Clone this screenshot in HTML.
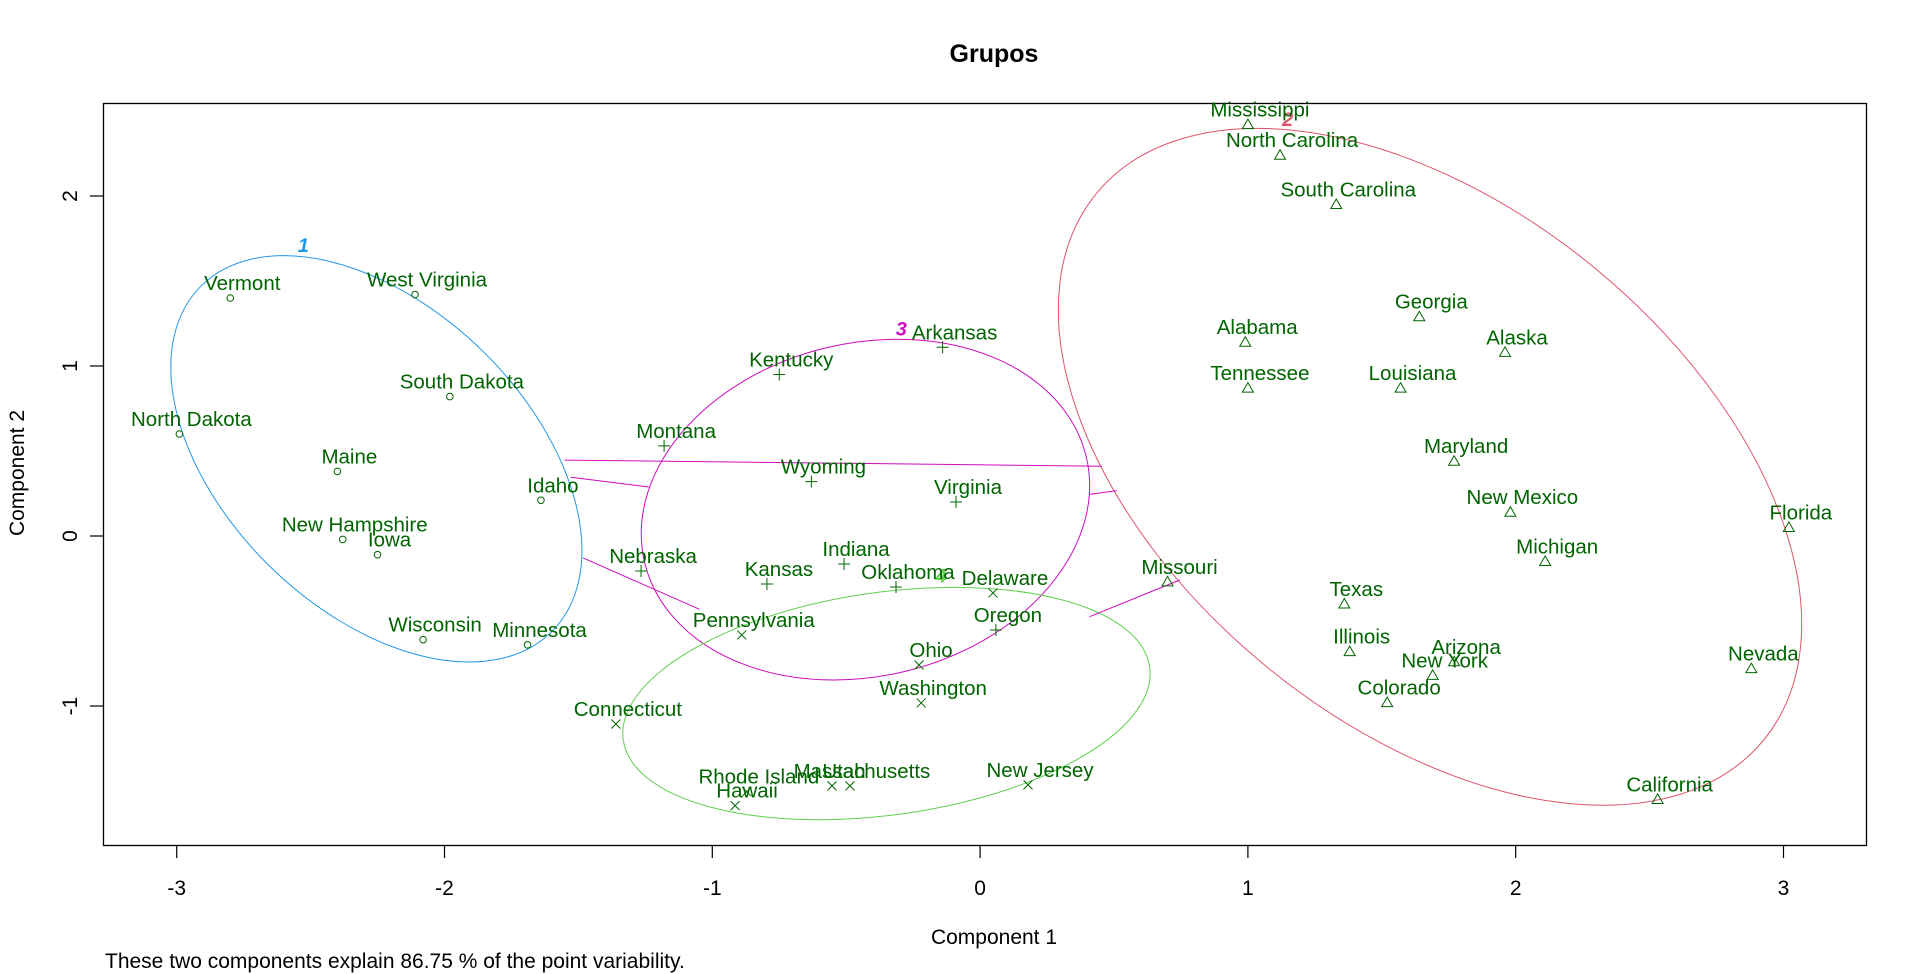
<!DOCTYPE html>
<html><head><meta charset="utf-8"><style>
html,body{margin:0;padding:0;background:#fff;}
svg{display:block;font-family:"Liberation Sans",Arial,sans-serif;}
</style></head><body>
<svg id="chart" width="1919" height="974" viewBox="0 0 1919 974">
<text x="994" y="62" text-anchor="middle" font-size="25" font-weight="bold">Grupos</text>
<rect x="103.5" y="103.5" width="1763" height="742" fill="none" stroke="#000" stroke-width="1.3"/>
<g id="ell" transform="scale(1.2381,1.2236)" fill="none">
 <ellipse cx="304" cy="375" rx="200" ry="123" transform="rotate(45 304 375)" stroke="#2297E6" vector-effect="non-scaling-stroke"/>
 <ellipse cx="1155" cy="381.5" rx="350" ry="210" transform="rotate(40 1155 381.5)" stroke="#DF536B" vector-effect="non-scaling-stroke"/>
 <ellipse cx="699" cy="416.5" rx="183.5" ry="136" transform="rotate(-14 699 416.5)" stroke="#CD0BBC" vector-effect="non-scaling-stroke"/>
 <ellipse cx="716" cy="575" rx="214.7" ry="91" transform="rotate(-8 716 575)" stroke="#61D04F" vector-effect="non-scaling-stroke"/>
 <g stroke="#CD0BBC">
  <line x1="456" y1="376" x2="890" y2="381" vector-effect="non-scaling-stroke"/>
  <line x1="461" y1="390" x2="524" y2="398" vector-effect="non-scaling-stroke"/>
  <line x1="471" y1="456" x2="565" y2="498" vector-effect="non-scaling-stroke"/>
  <line x1="880" y1="404" x2="902" y2="401" vector-effect="non-scaling-stroke"/>
  <line x1="880" y1="504" x2="953" y2="474" vector-effect="non-scaling-stroke"/>
 </g>
 <text x="245" y="206" text-anchor="middle" font-size="16" font-style="italic" font-weight="bold" fill="#2297E6">1</text>
 <text x="1040" y="103" text-anchor="middle" font-size="16" font-style="italic" font-weight="bold" fill="#DF536B">2</text>
 <text x="728" y="274" text-anchor="middle" font-size="16" font-style="italic" font-weight="bold" fill="#CD0BBC">3</text>
 <text x="760" y="476" text-anchor="middle" font-size="16" font-style="italic" font-weight="bold" fill="#61D04F">4</text>
</g>
<g id="axes"></g>
<g id="pts"></g>
<text x="994" y="944" text-anchor="middle" font-size="21">Component 1</text>
<text transform="translate(24,473) rotate(-90)" text-anchor="middle" font-size="21">Component 2</text>
<text x="105" y="968" font-size="21">These two components explain 86.75 % of the point variability.</text>
</svg>
<script>
const states = ["Vermont","West Virginia","South Dakota","North Dakota","Maine","Idaho","New Hampshire","Iowa","Wisconsin","Minnesota",
"Mississippi","North Carolina","South Carolina","Georgia","Alabama","Alaska","Tennessee","Louisiana","Maryland","New Mexico","Florida","Michigan","Missouri","Texas","Illinois","Arizona","New York","Colorado","Nevada","California",
"Arkansas","Kentucky","Montana","Wyoming","Virginia","Nebraska","Kansas","Indiana","Oklahoma","Oregon",
"Delaware","Pennsylvania","Ohio","Washington","Connecticut","Rhode Island","Hawaii","Utah","Massachusetts","New Jersey"];
const comp1 = [-2.80,-2.11,-1.98,-2.99,-2.40,-1.64,-2.38,-2.25,-2.08,-1.69,
1.00,1.12,1.33,1.64,0.99,1.96,1.00,1.57,1.77,1.98,3.02,2.11,0.70,1.36,1.38,1.77,1.69,1.52,2.88,2.53,
-0.14,-0.75,-1.18,-0.63,-0.09,-1.266,-0.796,-0.508,-0.314,0.059,
0.048,-0.890,-0.228,-0.22,-1.36,-0.871,-0.915,-0.553,-0.486,0.179];
const comp2 = [1.40,1.42,0.82,0.60,0.38,0.21,-0.02,-0.11,-0.61,-0.64,
2.42,2.24,1.95,1.29,1.14,1.08,0.87,0.87,0.44,0.14,0.05,-0.15,-0.27,-0.40,-0.68,-0.74,-0.82,-0.98,-0.78,-1.55,
1.11,0.95,0.53,0.32,0.20,-0.206,-0.282,-0.165,-0.300,-0.553,
-0.335,-0.582,-0.759,-0.982,-1.106,-1.504,-1.586,-1.47,-1.47,-1.464];
const cluster = [1,1,1,1,1,1,1,1,1,1, 2,2,2,2,2,2,2,2,2,2,2,2,2,2,2,2,2,2,2,2, 3,3,3,3,3,3,3,3,3,3, 4,4,4,4,4,4,4,4,4,4];
const xTicks = [-3,-2,-1,0,1,2,3];
const yTicks = [-1,0,1,2];

const X = v => 980.1 + 267.8*v;
const Y = v => 536 - 170*v;
const NS = "http://www.w3.org/2000/svg";
const ax = document.getElementById('axes');
const pts = document.getElementById('pts');
function mk(tag, attrs, parent){const e=document.createElementNS(NS,tag);for(const k in attrs)e.setAttribute(k,attrs[k]);parent.appendChild(e);return e;}

xTicks.forEach(t=>{
  const l=mk('line',{x1:X(t),x2:X(t),y1:845.5,y2:858,stroke:'#000','stroke-width':1.2},ax);
  
  
  const tx=mk('text',{x:X(t),y:895,'text-anchor':'middle','font-size':21},ax);
  tx.textContent=t;
  
  
});
yTicks.forEach(t=>{
  const l=mk('line',{x1:90,x2:103.5,y1:Y(t),y2:Y(t),stroke:'#000','stroke-width':1.2},ax);
  
  
  const tx=mk('text',{'text-anchor':'middle','font-size':21,transform:`translate(77,${Y(t)}) rotate(-90)`},ax);
  tx.textContent=t;
  
  
});

const G='#006400';
states.forEach((s,i)=>{
  const px=X(comp1[i]), py=Y(comp2[i]), c=cluster[i];
  let m;
  if(c===1) m=mk('circle',{cx:px,cy:py,r:3.3,fill:'none',stroke:G},pts);
  else if(c===2) m=mk('path',{d:`M${px},${py-5.5}L${px+5.5},${py+4}L${px-5.5},${py+4}Z`,fill:'none',stroke:G},pts);
  else if(c===3) m=mk('path',{d:`M${px-6},${py}H${px+6}M${px},${py-6}V${py+6}`,fill:'none',stroke:G},pts);
  else m=mk('path',{d:`M${px-4.5},${py-4.5}L${px+4.5},${py+4.5}M${px-4.5},${py+4.5}L${px+4.5},${py-4.5}`,fill:'none',stroke:G},pts);
  
  
  const t=mk('text',{x:px+12,y:py-8,'text-anchor':'middle','font-size':20.5,fill:G},pts);
  t.textContent=s;
  
  
});
</script>
</body></html>
